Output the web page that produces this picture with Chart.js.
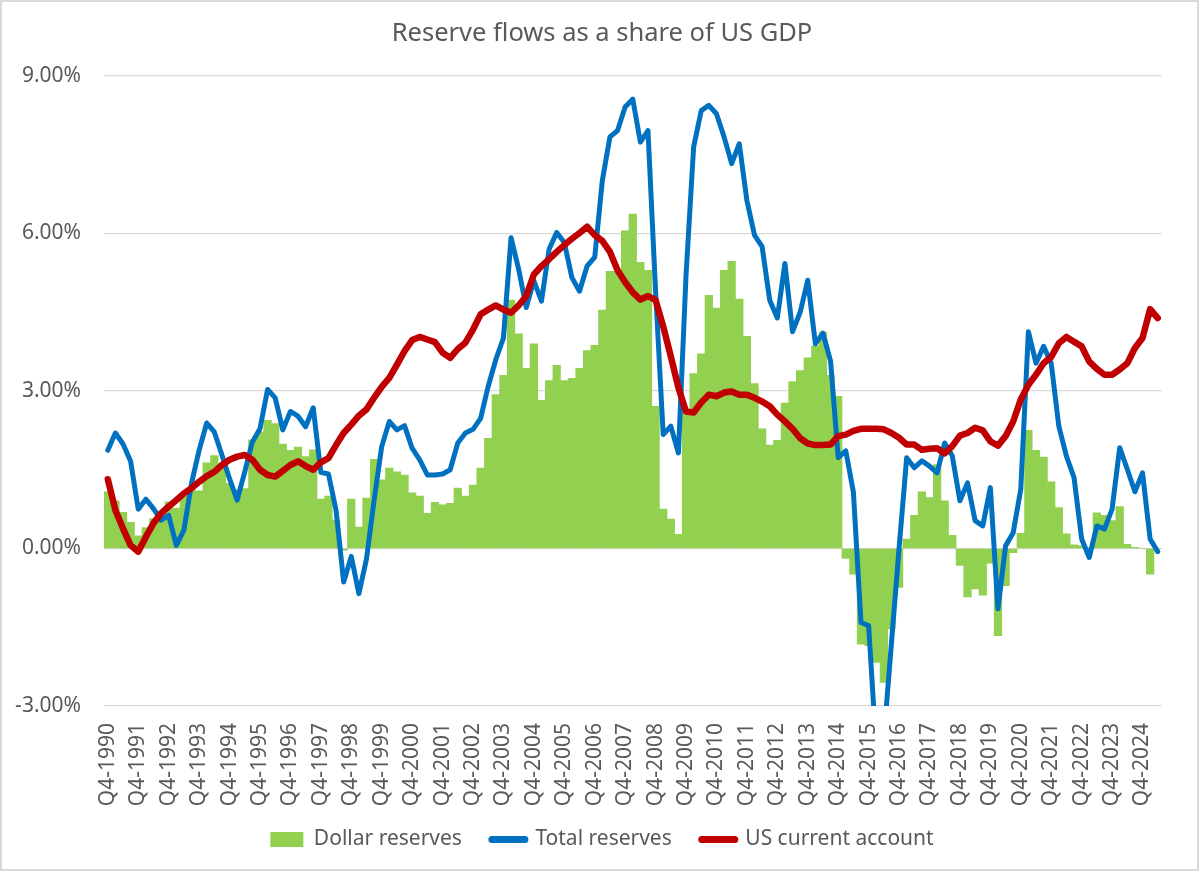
<!DOCTYPE html>
<html>
<head>
<meta charset="utf-8">
<script src="https://cdn.jsdelivr.net/npm/chart.js@4.4.1/dist/chart.umd.min.js"></script>
<style>
  html, body { margin: 0; padding: 0; background: #ffffff; }
  #wrap { width: 1200px; height: 872px; }
</style>
</head>
<body>
<div id="wrap"><canvas id="c" width="1200" height="872"></canvas></div>
<script>
const TITLE = 'Reserve flows as a share of US GDP';
const SERIES_NAMES = ['Dollar reserves', 'Total reserves', 'US current account'];
const SERIES_COLORS = ['#92D050', '#0070C0', '#C00000'];

const categories = [
  'Q4-1990',
  'Q1-1991','Q2-1991','Q3-1991','Q4-1991',
  'Q1-1992','Q2-1992','Q3-1992','Q4-1992',
  'Q1-1993','Q2-1993','Q3-1993','Q4-1993',
  'Q1-1994','Q2-1994','Q3-1994','Q4-1994',
  'Q1-1995','Q2-1995','Q3-1995','Q4-1995',
  'Q1-1996','Q2-1996','Q3-1996','Q4-1996',
  'Q1-1997','Q2-1997','Q3-1997','Q4-1997',
  'Q1-1998','Q2-1998','Q3-1998','Q4-1998',
  'Q1-1999','Q2-1999','Q3-1999','Q4-1999',
  'Q1-2000','Q2-2000','Q3-2000','Q4-2000',
  'Q1-2001','Q2-2001','Q3-2001','Q4-2001',
  'Q1-2002','Q2-2002','Q3-2002','Q4-2002',
  'Q1-2003','Q2-2003','Q3-2003','Q4-2003',
  'Q1-2004','Q2-2004','Q3-2004','Q4-2004',
  'Q1-2005','Q2-2005','Q3-2005','Q4-2005',
  'Q1-2006','Q2-2006','Q3-2006','Q4-2006',
  'Q1-2007','Q2-2007','Q3-2007','Q4-2007',
  'Q1-2008','Q2-2008','Q3-2008','Q4-2008',
  'Q1-2009','Q2-2009','Q3-2009','Q4-2009',
  'Q1-2010','Q2-2010','Q3-2010','Q4-2010',
  'Q1-2011','Q2-2011','Q3-2011','Q4-2011',
  'Q1-2012','Q2-2012','Q3-2012','Q4-2012',
  'Q1-2013','Q2-2013','Q3-2013','Q4-2013',
  'Q1-2014','Q2-2014','Q3-2014','Q4-2014',
  'Q1-2015','Q2-2015','Q3-2015','Q4-2015',
  'Q1-2016','Q2-2016','Q3-2016','Q4-2016',
  'Q1-2017','Q2-2017','Q3-2017','Q4-2017',
  'Q1-2018','Q2-2018','Q3-2018','Q4-2018',
  'Q1-2019','Q2-2019','Q3-2019','Q4-2019',
  'Q1-2020','Q2-2020','Q3-2020','Q4-2020',
  'Q1-2021','Q2-2021','Q3-2021','Q4-2021',
  'Q1-2022','Q2-2022','Q3-2022','Q4-2022',
  'Q1-2023','Q2-2023','Q3-2023','Q4-2023',
  'Q1-2024','Q2-2024','Q3-2024','Q4-2024',
  'Q1-2025','Q2-2025'
];

// Dollar reserves, % of US GDP
const dollarReserves = [
  1.08, 0.91, 0.69, 0.50, 0.24, 0.40, 0.57, 0.62, 0.89, 0.77,
  1.00, 1.11, 1.10, 1.63, 1.77, 1.60, 1.24, 1.12, 1.14, 2.07,
  2.22, 2.44, 2.38, 1.99, 1.87, 1.93, 1.75, 1.88, 0.94, 1.00,
  0.54, -0.03, 0.94, 0.41, 0.96, 1.70, 1.31, 1.53, 1.46, 1.40,
  1.06, 1.00, 0.67, 0.88, 0.83, 0.86, 1.15, 1.00, 1.21, 1.53,
  2.10, 2.93, 3.30, 4.73, 4.09, 3.43, 3.90, 2.82, 3.20, 3.49,
  3.20, 3.24, 3.43, 3.77, 3.87, 4.54, 5.28, 5.28, 6.05, 6.37,
  5.45, 5.30, 2.71, 0.75, 0.56, 0.27, 2.60, 3.33, 3.71, 4.82,
  4.58, 5.30, 5.47, 4.75, 4.04, 3.14, 2.28, 1.97, 2.06, 2.77,
  3.18, 3.39, 3.63, 3.86, 4.12, 3.30, 2.90, -0.19, -0.49, -1.82,
  -1.85, -2.17, -2.55, -1.53, -0.74, 0.18, 0.63, 1.08, 0.97, 1.60,
  0.91, 0.25, -0.32, -0.92, -0.77, -0.89, -0.28, -1.66, -0.71, -0.08,
  0.29, 2.25, 1.87, 1.74, 1.27, 0.78, 0.28, 0.07, 0.05, 0.02,
  0.68, 0.63, 0.53, 0.80, 0.08, 0.02, 0.00, -0.49, 0.00
];

// Total reserves, % of US GDP
const totalReserves = [
  1.87, 2.20, 1.99, 1.66, 0.75, 0.94, 0.76, 0.54, 0.63, 0.06,
  0.35, 1.24, 1.87, 2.39, 2.22, 1.78, 1.33, 0.92, 1.46, 2.03,
  2.28, 3.03, 2.87, 2.26, 2.61, 2.52, 2.32, 2.68, 1.45, 1.42,
  0.73, -0.64, -0.15, -0.86, -0.20, 0.92, 1.94, 2.42, 2.26, 2.34,
  1.91, 1.69, 1.40, 1.40, 1.42, 1.50, 2.01, 2.20, 2.27, 2.48,
  3.09, 3.60, 4.01, 5.92, 5.32, 4.59, 5.10, 4.71, 5.70, 6.02,
  5.83, 5.16, 4.90, 5.38, 5.55, 7.01, 7.84, 7.96, 8.41, 8.56,
  7.74, 7.96, 4.90, 2.17, 2.33, 1.82, 5.20, 7.65, 8.34, 8.44,
  8.28, 7.84, 7.33, 7.71, 6.63, 5.97, 5.75, 4.73, 4.39, 5.43,
  4.13, 4.50, 5.11, 3.90, 4.10, 3.57, 1.73, 1.86, 1.07, -1.41,
  -1.47, -3.80, -3.62, -1.80, 0.00, 1.73, 1.54, 1.67, 1.57, 1.44,
  2.01, 1.76, 0.91, 1.25, 0.53, 0.43, 1.16, -1.15, 0.05, 0.30,
  1.13, 4.13, 3.53, 3.85, 3.53, 2.33, 1.76, 1.35, 0.18, -0.17,
  0.43, 0.37, 0.75, 1.92, 1.51, 1.08, 1.44, 0.18, -0.06
];

// US current account (deficit), % of US GDP
const usCurrentAccount = [
  1.32, 0.73, 0.38, 0.06, -0.06, 0.22, 0.48, 0.67, 0.80, 0.92,
  1.05, 1.15, 1.27, 1.38, 1.46, 1.59, 1.69, 1.75, 1.78, 1.69,
  1.50, 1.40, 1.37, 1.48, 1.59, 1.66, 1.57, 1.50, 1.64, 1.72,
  1.97, 2.20, 2.36, 2.53, 2.65, 2.87, 3.08, 3.25, 3.50, 3.76,
  3.97, 4.03, 3.98, 3.93, 3.73, 3.63, 3.80, 3.92, 4.17, 4.46,
  4.55, 4.63, 4.55, 4.49, 4.63, 4.81, 5.22, 5.38, 5.51, 5.65,
  5.78, 5.90, 6.01, 6.13, 5.97, 5.86, 5.65, 5.30, 5.07, 4.88,
  4.74, 4.81, 4.73, 4.23, 3.66, 3.06, 2.61, 2.59, 2.78, 2.93,
  2.90, 2.97, 2.99, 2.93, 2.93, 2.87, 2.80, 2.71, 2.55, 2.42,
  2.28, 2.10, 2.00, 1.97, 1.97, 1.98, 2.14, 2.17, 2.24, 2.28,
  2.28, 2.28, 2.27, 2.20, 2.11, 1.98, 1.98, 1.88, 1.90, 1.91,
  1.81, 1.95, 2.15, 2.20, 2.30, 2.25, 2.04, 1.96, 2.14, 2.42,
  2.84, 3.12, 3.31, 3.53, 3.65, 3.91, 4.03, 3.94, 3.85, 3.56,
  3.42, 3.31, 3.31, 3.41, 3.53, 3.82, 4.01, 4.56, 4.39
];

const Y_MIN = -3, Y_MAX = 9, Y_STEP = 3;
const LABEL_EVERY = 4;

const FONT = '"Noto Sans", "Open Sans", sans-serif';
const TEXT_COLOR = '#595959';
const GRID_COLOR = '#d9d9d9';

const frame = {
  id: 'frame',
  beforeDraw(chart) {
    const ctx = chart.ctx;
    ctx.save();
    ctx.fillStyle = '#ffffff';
    ctx.fillRect(0, 0, chart.width, chart.height);
    ctx.restore();
    // let rotated / long tick labels extend past their scale boxes
    Object.values(chart.scales).forEach(s => { s._computeLabelArea = () => undefined; });
  },
  afterDraw(chart) {
    const ctx = chart.ctx;
    ctx.save();
    ctx.strokeStyle = GRID_COLOR;
    ctx.lineWidth = 2;
    ctx.strokeRect(1, 1, chart.width - 3, chart.height - 3);
    ctx.restore();
  }
};

const lineWidths = [0, 5, 6.5];

new Chart(document.getElementById('c'), {
  data: {
    labels: categories,
    datasets: [
      {
        type: 'bar',
        label: SERIES_NAMES[0],
        data: dollarReserves,
        backgroundColor: SERIES_COLORS[0],
        borderWidth: 0,
        barPercentage: 1.0,
        categoryPercentage: 1.0,
        order: 3
      },
      {
        type: 'line',
        label: SERIES_NAMES[1],
        data: totalReserves,
        borderColor: SERIES_COLORS[1],
        backgroundColor: SERIES_COLORS[1],
        borderWidth: lineWidths[1],
        pointRadius: 0,
        tension: 0,
        borderJoinStyle: 'round',
        borderCapStyle: 'round',
        clip: { left: 6, right: 6, top: 6, bottom: 0 },
        order: 2
      },
      {
        type: 'line',
        label: SERIES_NAMES[2],
        data: usCurrentAccount,
        borderColor: SERIES_COLORS[2],
        backgroundColor: SERIES_COLORS[2],
        borderWidth: lineWidths[2],
        pointRadius: 0,
        tension: 0,
        borderJoinStyle: 'round',
        borderCapStyle: 'round',
        clip: { left: 6, right: 6, top: 6, bottom: 0 },
        order: 1
      }
    ]
  },
  options: {
    responsive: false,
    animation: false,
    devicePixelRatio: 1,
    layout: { padding: { left: 24, right: 20, top: 0, bottom: 12 } },
    font: { family: FONT },
    plugins: {
      title: {
        display: true,
        text: TITLE,
        color: TEXT_COLOR,
        font: { family: FONT, size: 25.5, weight: 'normal', lineHeight: 1.2 },
        padding: { top: 18, bottom: 27.4 }
      },
      legend: {
        display: true,
        position: 'bottom',
        labels: {
          color: TEXT_COLOR,
          font: { family: FONT, size: 21 },
          usePointStyle: true,
          pointStyleWidth: 33,
          boxHeight: 15,
          padding: 30,
          sort: (a, b) => a.datasetIndex - b.datasetIndex,
          generateLabels(chart) {
            const items = Chart.defaults.plugins.legend.labels.generateLabels(chart);
            items.forEach(it => {
              const i = it.datasetIndex;
              if (i === 0) {
                it.pointStyle = 'rect';
                it.fillStyle = SERIES_COLORS[0];
                it.strokeStyle = SERIES_COLORS[0];
                it.lineWidth = 0;
              } else {
                it.pointStyle = 'line';
                it.strokeStyle = SERIES_COLORS[i];
                it.fillStyle = SERIES_COLORS[i];
                it.lineWidth = 7;
                it.lineCap = 'round';
              }
            });
            return items;
          }
        }
      },
      tooltip: { enabled: false }
    },
    scales: {
      x: {
        type: 'category',
        offset: true,
        grid: { display: false, drawTicks: false },
        border: { display: false },
        ticks: {
          autoSkip: false,
          minRotation: 90,
          maxRotation: 90,
          padding: 17,
          color: TEXT_COLOR,
          font: { family: FONT, size: 21 },
          callback: function (value, index) {
            return index % LABEL_EVERY === 0 ? this.getLabelForValue(value) : '';
          }
        },
        afterFit(scale) { scale.height = 93; }
      },
      y: {
        min: Y_MIN,
        max: Y_MAX,
        grid: { color: GRID_COLOR, lineWidth: 1.3, drawTicks: false },
        border: { display: false },
        ticks: {
          stepSize: Y_STEP,
          padding: 23,
          color: TEXT_COLOR,
          font: { family: FONT, size: 21 },
          callback: (v) => v.toFixed(2) + '%'
        },
        afterFit(scale) { scale.width = 80; }
      }
    }
  },
  plugins: [frame]
});
</script>
</body>
</html>
